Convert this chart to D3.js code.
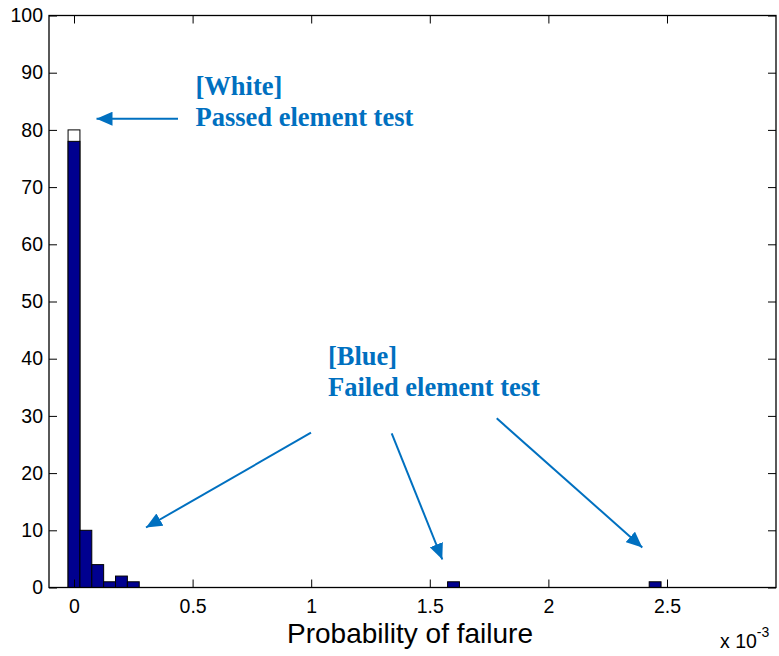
<!DOCTYPE html>
<html>
<head>
<meta charset="utf-8">
<script src="https://cdn.jsdelivr.net/npm/d3@7"></script>
<style>
  body { margin: 0; background: #fff; }
  svg { display: block; }
</style>
</head>
<body>
<svg id="chart" width="779" height="656"></svg>
<script>
// histogram data (x in units of 1e-3)
var binCenters = [0, 0.05, 0.1, 0.15, 0.2, 0.25, 1.6, 2.45];
var failedCounts = [78, 10, 4, 1, 2, 1, 1, 1];
var passedCounts = [2, 0, 0, 0, 0, 0, 0, 0];
var binWidth = 0.05;
var xTicks = [0, 0.5, 1, 1.5, 2, 2.5];
var yTicks = [0, 10, 20, 30, 40, 50, 60, 70, 80, 90, 100];

var svg = d3.select('#chart');
var plotL = 49, plotR = 776, plotT = 15.5, plotB = 587.5;

var x = d3.scaleLinear().domain([-0.1054, 2.9596]).range([plotL, plotR]);
var y = d3.scaleLinear().domain([0, 100]).range([plotB, plotT]);

var blue = '#0070c0';

// bars: white (passed) stacked on blue (failed)
var g = svg.append('g');
binCenters.forEach(function (c, i) {
    var total = failedCounts[i] + passedCounts[i];
    if (passedCounts[i] > 0) {
        g.append('rect')
            .attr('x', x(c - binWidth / 2))
            .attr('y', y(total))
            .attr('width', x(c + binWidth / 2) - x(c - binWidth / 2))
            .attr('height', y(0) - y(total))
            .attr('fill', '#ffffff')
            .attr('stroke', '#000');
    }
    g.append('rect')
        .attr('x', x(c - binWidth / 2))
        .attr('y', y(failedCounts[i]))
        .attr('width', x(c + binWidth / 2) - x(c - binWidth / 2))
        .attr('height', y(0) - y(failedCounts[i]))
        .attr('fill', '#00008f')
        .attr('stroke', '#000');
});

// box
svg.append('rect')
    .attr('x', plotL).attr('y', plotT)
    .attr('width', plotR - plotL).attr('height', plotB - plotT)
    .attr('fill', 'none').attr('stroke', '#000').attr('stroke-width', 1.3);

// axes with inward ticks
var fontAxis = 'Liberation Sans, Arial, sans-serif';
var xAxis = svg.append('g').attr('transform', 'translate(0,' + plotB + ')')
    .call(d3.axisBottom(x).tickValues(xTicks).tickSize(-8).tickPadding(12).tickFormat(d3.format('')));
var xAxisTop = svg.append('g').attr('transform', 'translate(0,' + plotT + ')')
    .call(d3.axisTop(x).tickValues(xTicks).tickSize(-8).tickFormat(''));
var yAxis = svg.append('g').attr('transform', 'translate(' + plotL + ',0)')
    .call(d3.axisLeft(y).tickValues(yTicks).tickSize(-8).tickPadding(6));
var yAxisR = svg.append('g').attr('transform', 'translate(' + plotR + ',0)')
    .call(d3.axisRight(y).tickValues(yTicks).tickSize(-8).tickFormat(''));

[xAxis, xAxisTop, yAxis, yAxisR].forEach(function (a) {
    a.select('.domain').remove();
    a.selectAll('line').attr('stroke', '#000').attr('stroke-width', 1);
    a.selectAll('text').attr('fill', '#000').style('font-family', fontAxis).style('font-size', '19.5px');
});

// axis label
svg.append('text')
    .attr('x', 410).attr('y', 643)
    .attr('text-anchor', 'middle')
    .style('font-family', fontAxis).style('font-size', '28px')
    .text('Probability of failure');

var mult = svg.append('text')
    .attr('x', 720).attr('y', 648)
    .style('font-family', fontAxis).style('font-size', '19.5px');
mult.append('tspan').text('x 10');
mult.append('tspan').attr('dy', -11).style('font-size', '14px').text('-3');

// annotations
var fontNote = 'Liberation Serif, Times New Roman, serif';
function note(xp, yp, lines) {
    lines.forEach(function (t, i) {
        svg.append('text')
            .attr('x', xp).attr('y', yp + i * 31)
            .attr('fill', blue)
            .style('font-family', fontNote).style('font-size', '26.5px').style('font-weight', 'bold')
            .text(t);
    });
}
note(195.5, 94.5, ['[White]', 'Passed element test']);
note(328, 364.5, ['[Blue]', 'Failed element test']);

// arrows
svg.append('defs').append('marker')
    .attr('id', 'head')
    .attr('viewBox', '0 0 16 14')
    .attr('refX', 16).attr('refY', 7)
    .attr('markerWidth', 16).attr('markerHeight', 14)
    .attr('markerUnits', 'userSpaceOnUse')
    .attr('orient', 'auto')
    .append('path').attr('d', 'M0,0 L16,7 L0,14 Z').attr('fill', blue);

var arrows = [
    [178, 118.7, 96.5, 118.7],
    [311, 432.7, 146, 527.5],
    [391.7, 433.3, 442.3, 559.5],
    [496.7, 418.3, 642.3, 547.5]
];
arrows.forEach(function (a) {
    svg.append('line')
        .attr('x1', a[0]).attr('y1', a[1]).attr('x2', a[2]).attr('y2', a[3])
        .attr('stroke', blue).attr('stroke-width', 2)
        .attr('marker-end', 'url(#head)');
});
</script>
</body>
</html>
